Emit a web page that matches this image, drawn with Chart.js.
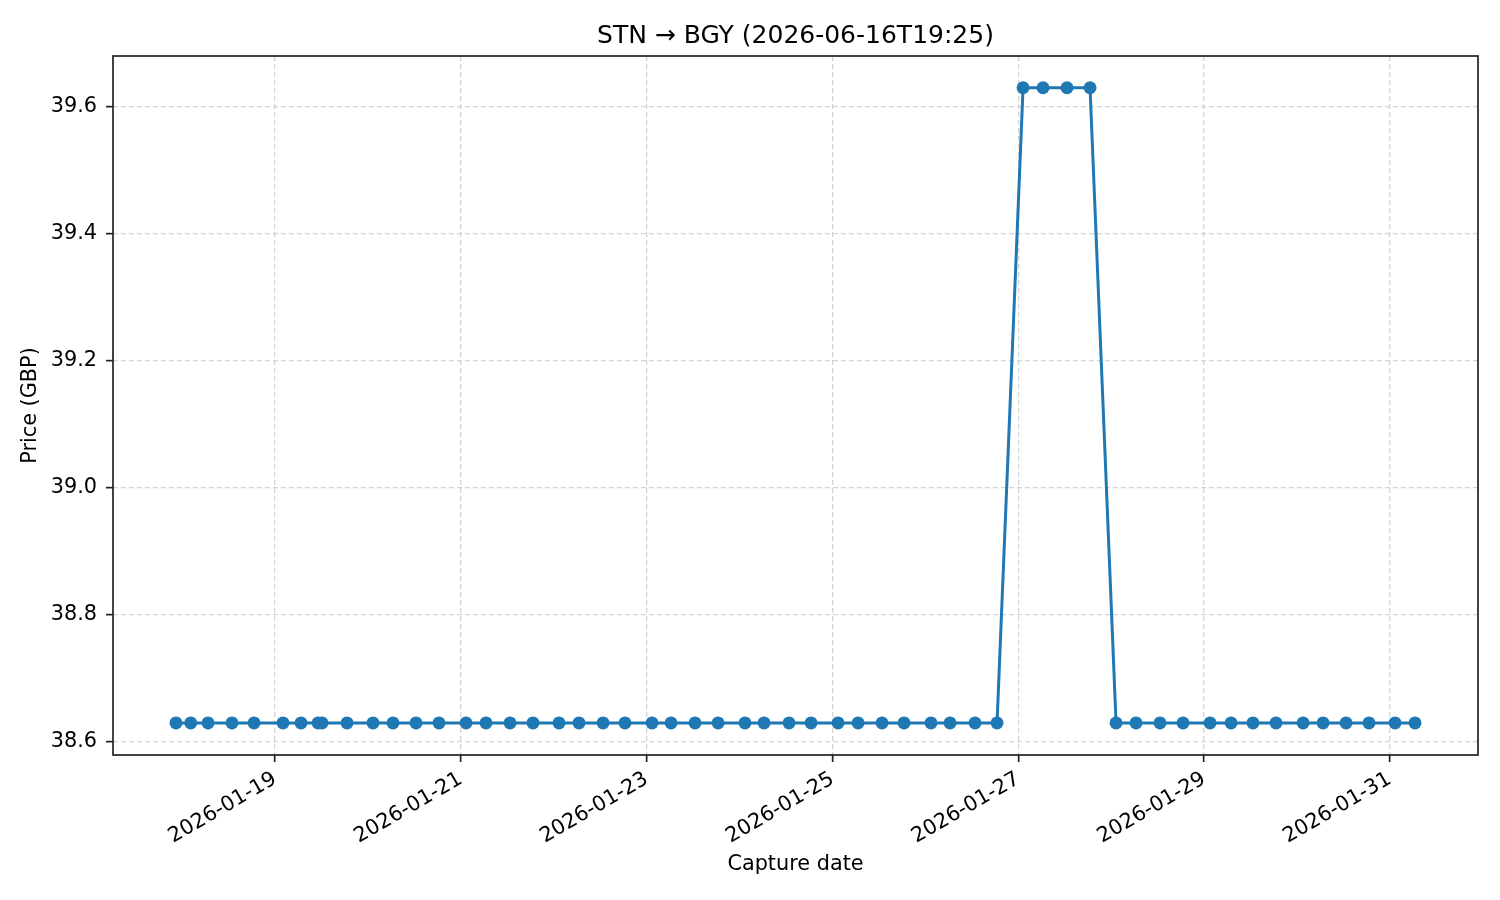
<!DOCTYPE html>
<html>
<head>
<meta charset="utf-8">
<script src="https://cdn.jsdelivr.net/npm/chart.js@4"></script>
<style>
  body { margin: 0; background: #fff; }
</style>
</head>
<body>
<canvas id="myChart" width="1500" height="900"></canvas>
<script>
  // capture times, in days after 2026-01-19 00:00
  const baseDate = '2026-01-19';
  const captureDays = [
    -1.066, -0.907, -0.721, -0.463, -0.226, 0.086, 0.280, 0.463, 0.506, 0.775,
    1.055, 1.270, 1.518, 1.765, 2.056, 2.271, 2.530, 2.777, 3.057, 3.272,
    3.531, 3.767, 4.058, 4.263, 4.521, 4.769, 5.059, 5.264, 5.533, 5.770,
    6.060, 6.276, 6.534, 6.771, 7.061, 7.266, 7.535, 7.772, 8.052, 8.267,
    8.525, 8.773, 9.053, 9.268, 9.526, 9.774, 10.065, 10.291, 10.527, 10.775,
    11.066, 11.281, 11.529, 11.776, 12.056, 12.271
  ];
  const prices = [
    38.63, 38.63, 38.63, 38.63, 38.63, 38.63, 38.63, 38.63, 38.63, 38.63,
    38.63, 38.63, 38.63, 38.63, 38.63, 38.63, 38.63, 38.63, 38.63, 38.63,
    38.63, 38.63, 38.63, 38.63, 38.63, 38.63, 38.63, 38.63, 38.63, 38.63,
    38.63, 38.63, 38.63, 38.63, 38.63, 38.63, 38.63, 38.63, 39.63, 39.63,
    39.63, 39.63, 38.63, 38.63, 38.63, 38.63, 38.63, 38.63, 38.63, 38.63,
    38.63, 38.63, 38.63, 38.63, 38.63, 38.63
  ];
  const xTickLabels = ['2026-01-19', '2026-01-21', '2026-01-23', '2026-01-25',
                       '2026-01-27', '2026-01-29', '2026-01-31'];
  const yTicks = [38.6, 38.8, 39.0, 39.2, 39.4, 39.6];
  const chartTitle = 'STN → BGY (2026-06-16T19:25)';

  const DAY = 86400000;
  const base = Date.parse(baseDate);
  const xTickValues = xTickLabels.map(s => (Date.parse(s) - base) / DAY);

  function fmtDay(v) {
    return new Date(base + v * DAY).toISOString().slice(0, 10);
  }

  Chart.defaults.font.family = '"DejaVu Sans", sans-serif';
  Chart.defaults.color = '#000';

  // matplotlib-like box round the plot area, title centred over the axes
  const frame = {
    id: 'frame',
    afterDraw(chart) {
      const { ctx, chartArea: a } = chart;
      ctx.save();
      ctx.strokeStyle = '#222';
      ctx.lineWidth = 1.7;
      ctx.strokeRect(Math.round(a.left), Math.round(a.top),
        Math.round(a.right - a.left), Math.round(a.bottom - a.top));
      ctx.fillStyle = '#000';
      ctx.font = '25px "DejaVu Sans", sans-serif';
      ctx.textAlign = 'center';
      ctx.textBaseline = 'middle';
      ctx.fillText(chartTitle, (a.left + a.right) / 2, 36);
      ctx.restore();
    }
  };

  const data = {
    datasets: [{
      label: 'Price',
      data: captureDays.map((d, i) => ({ x: d, y: prices[i] })),
      borderColor: '#1f77b4',
      backgroundColor: '#1f77b4',
      borderWidth: 3,
      pointRadius: 6.5,
      pointBorderWidth: 0,
      pointBackgroundColor: '#1f77b4',
      tension: 0
    }]
  };

  const gridOpts = {
    color: '#d4d4d4',
    lineWidth: 1.3,
    tickLength: 7,
    tickColor: '#222',
    tickWidth: 1.7
  };

  const config = {
    type: 'line',
    data: data,
    plugins: [frame],
    options: {
      responsive: false,
      animation: false,
      layout: { padding: { left: 0, right: 22, top: 56, bottom: 0 } },
      plugins: {
        legend: { display: false },
        tooltip: { enabled: false },
        title: { display: false }
      },
      scales: {
        x: {
          type: 'linear',
          min: -1.744,
          max: 12.949,
          afterBuildTicks: s => { s.ticks = xTickValues.map(v => ({ value: v })); },
          afterFit: s => { s.height = 145; },
          ticks: {
            autoSkip: false,
            minRotation: 30,
            maxRotation: 30,
            padding: 5,
            font: { size: 20.8 },
            callback: v => fmtDay(v)
          },
          grid: gridOpts,
          border: { display: false, dash: [5, 3] },
          title: {
            display: true,
            text: 'Capture date',
            font: { size: 20.8 },
            padding: { top: 4, bottom: 22.5 }
          }
        },
        y: {
          min: 38.5795,
          max: 39.68,
          afterBuildTicks: s => { s.ticks = yTicks.map(v => ({ value: v })); },
          afterFit: s => { s.width = 113; },
          ticks: {
            padding: 9,
            font: { size: 20.8 },
            callback: v => v.toFixed(1)
          },
          grid: gridOpts,
          border: { display: false, dash: [5, 3] },
          title: {
            display: true,
            text: 'Price (GBP)',
            font: { size: 20.8 },
            padding: { top: 18, bottom: 4 }
          }
        }
      }
    }
  };

  const myChart = new Chart(document.getElementById('myChart'), config);
</script>
</body>
</html>
